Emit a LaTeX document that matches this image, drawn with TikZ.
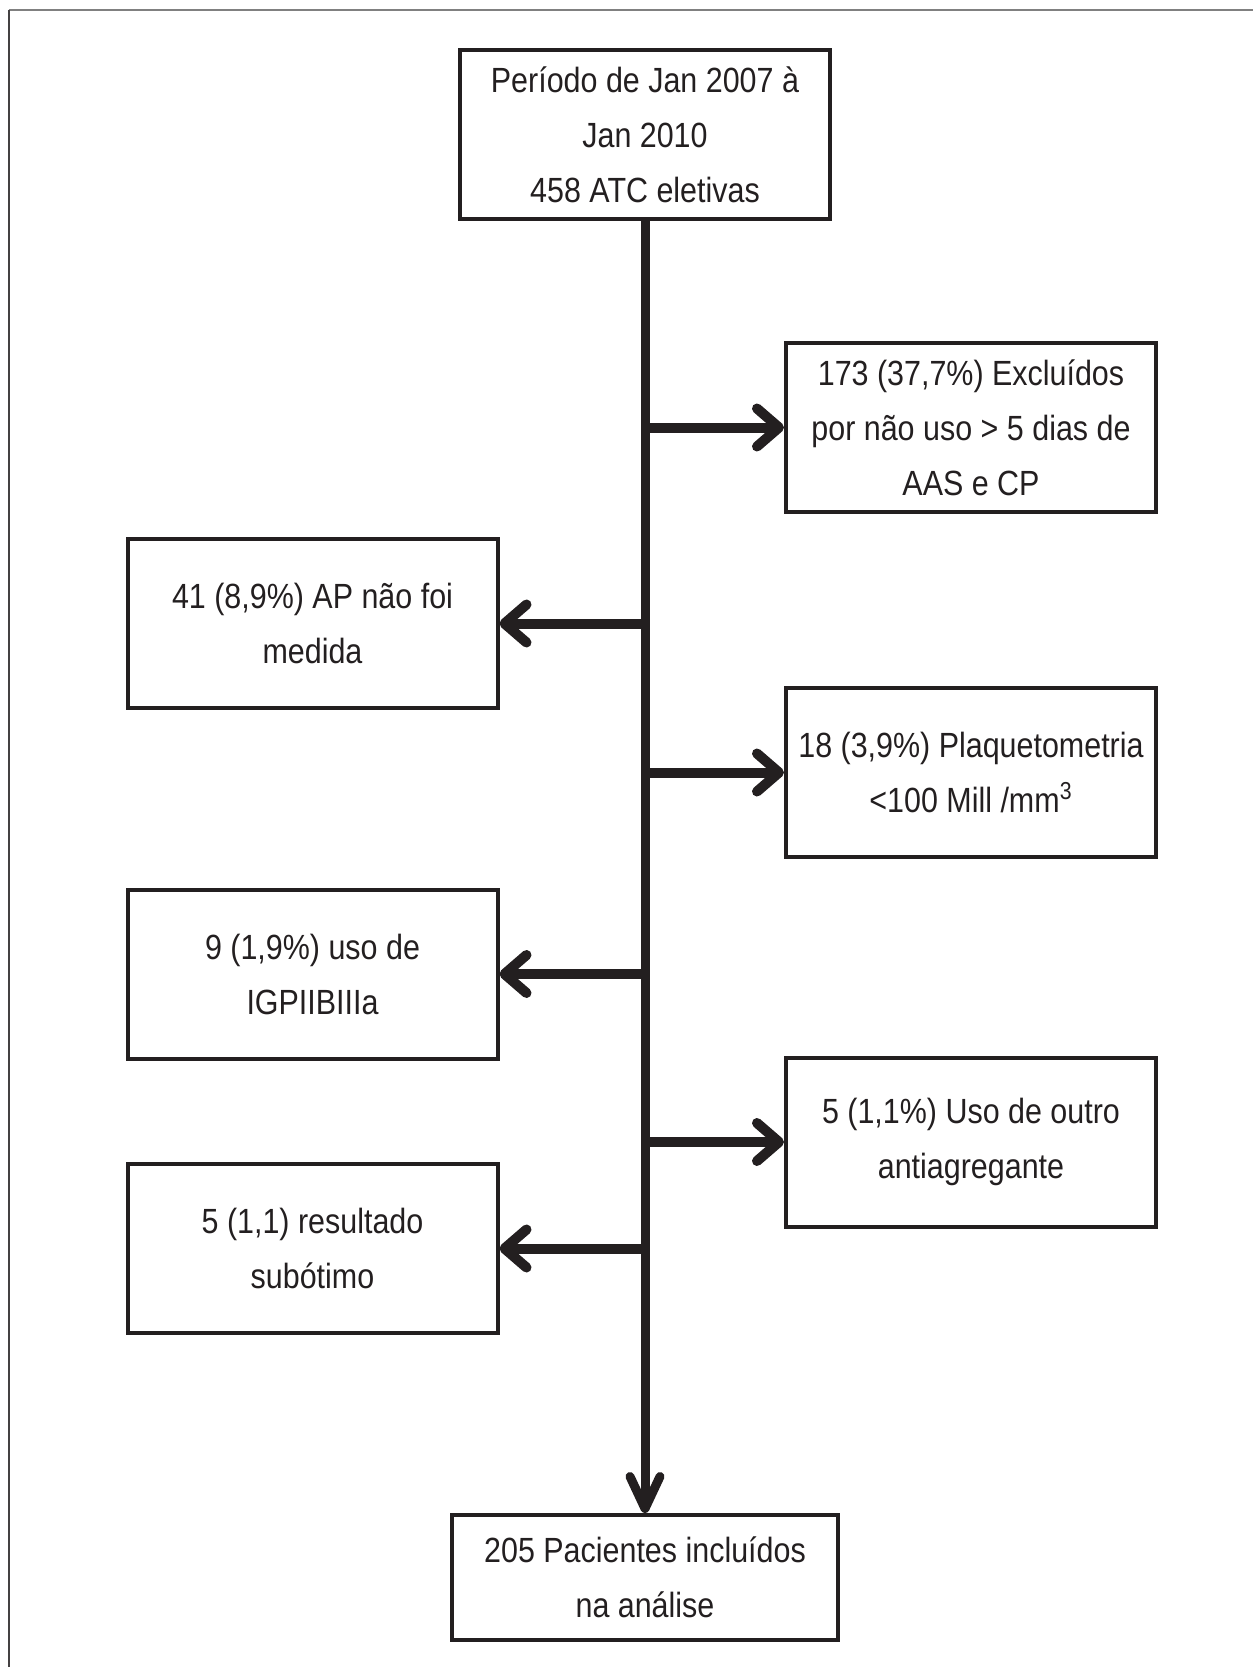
\documentclass[tikz,border=0pt]{standalone}
\usepackage{fontspec}
\setmainfont{Liberation Sans}[FakeStretch=0.87]
\usetikzlibrary{arrows.meta, positioning}
\definecolor{ink}{HTML}{231F20}

\begin{document}
\begin{tikzpicture}[
    box/.style={rectangle, draw=ink, line width=2pt, minimum width=185pt, minimum height=84.5pt, align=center, text=ink, font=\fontsize{17.5pt}{27.5pt}\selectfont},
    arrow/.style={-{Straight Barb[length=11pt, width=19pt, round]}, line width=5pt, ink},
    down/.style={-{Straight Barb[length=16pt, width=15pt, round]}, line width=4.5pt, ink}
]
    \useasboundingbox (0,0) rectangle (626.5pt,-833.5pt);

    % Frame
    \draw[gray, line width=1pt] (4.25pt,-4.75pt) -- (626.5pt,-4.75pt);
    \draw[ink!85, line width=1pt] (4.25pt,-4.75pt) -- (4.25pt,-833.5pt);

    % Nodes
    \node[box] (period) at (322.5pt,-67.25pt) {Período de Jan 2007 à \\ Jan 2010 \\ 458 ATC eletivas};
    \node[box] (nouse) at (485.5pt,-213.75pt) {173 (37,7\%) Excluídos \\ por não uso > 5 dias de \\ AAS e CP};
    \node[box] (notmeas) at (156.25pt,-311.75pt) {41 (8,9\%) AP não foi \\ medida};
    \node[box] (platelet) at (485.5pt,-386.25pt) {18 (3,9\%) Plaquetometria \\ <100 Mill /mm\textsuperscript{3}};
    \node[box] (igp) at (156.25pt,-487pt) {9 (1,9\%) uso de \\ IGPIIBIIIa};
    \node[box] (other) at (485.5pt,-571pt) {5 (1,1\%) Uso de outro \\ antiagregante};
    \node[box] (subopt) at (156.25pt,-624.25pt) {5 (1,1) resultado \\ subótimo};
    \node[box, minimum width=193pt, minimum height=62.5pt] (incl) at (322.5pt,-577.5pt-211.25pt) {205 Pacientes incluídos \\ na análise};

    % Arrows
    \draw[down] (period.south) -- (incl.north);
    \draw[arrow] (period.south |- nouse.west) -- (nouse.west);
    \draw[arrow] (period.south |- notmeas.east) -- (notmeas.east);
    \draw[arrow] (period.south |- platelet.west) -- (platelet.west);
    \draw[arrow] (period.south |- igp.east) -- (igp.east);
    \draw[arrow] (period.south |- other.west) -- (other.west);
    \draw[arrow] (period.south |- subopt.east) -- (subopt.east);
\end{tikzpicture}
\end{document}
